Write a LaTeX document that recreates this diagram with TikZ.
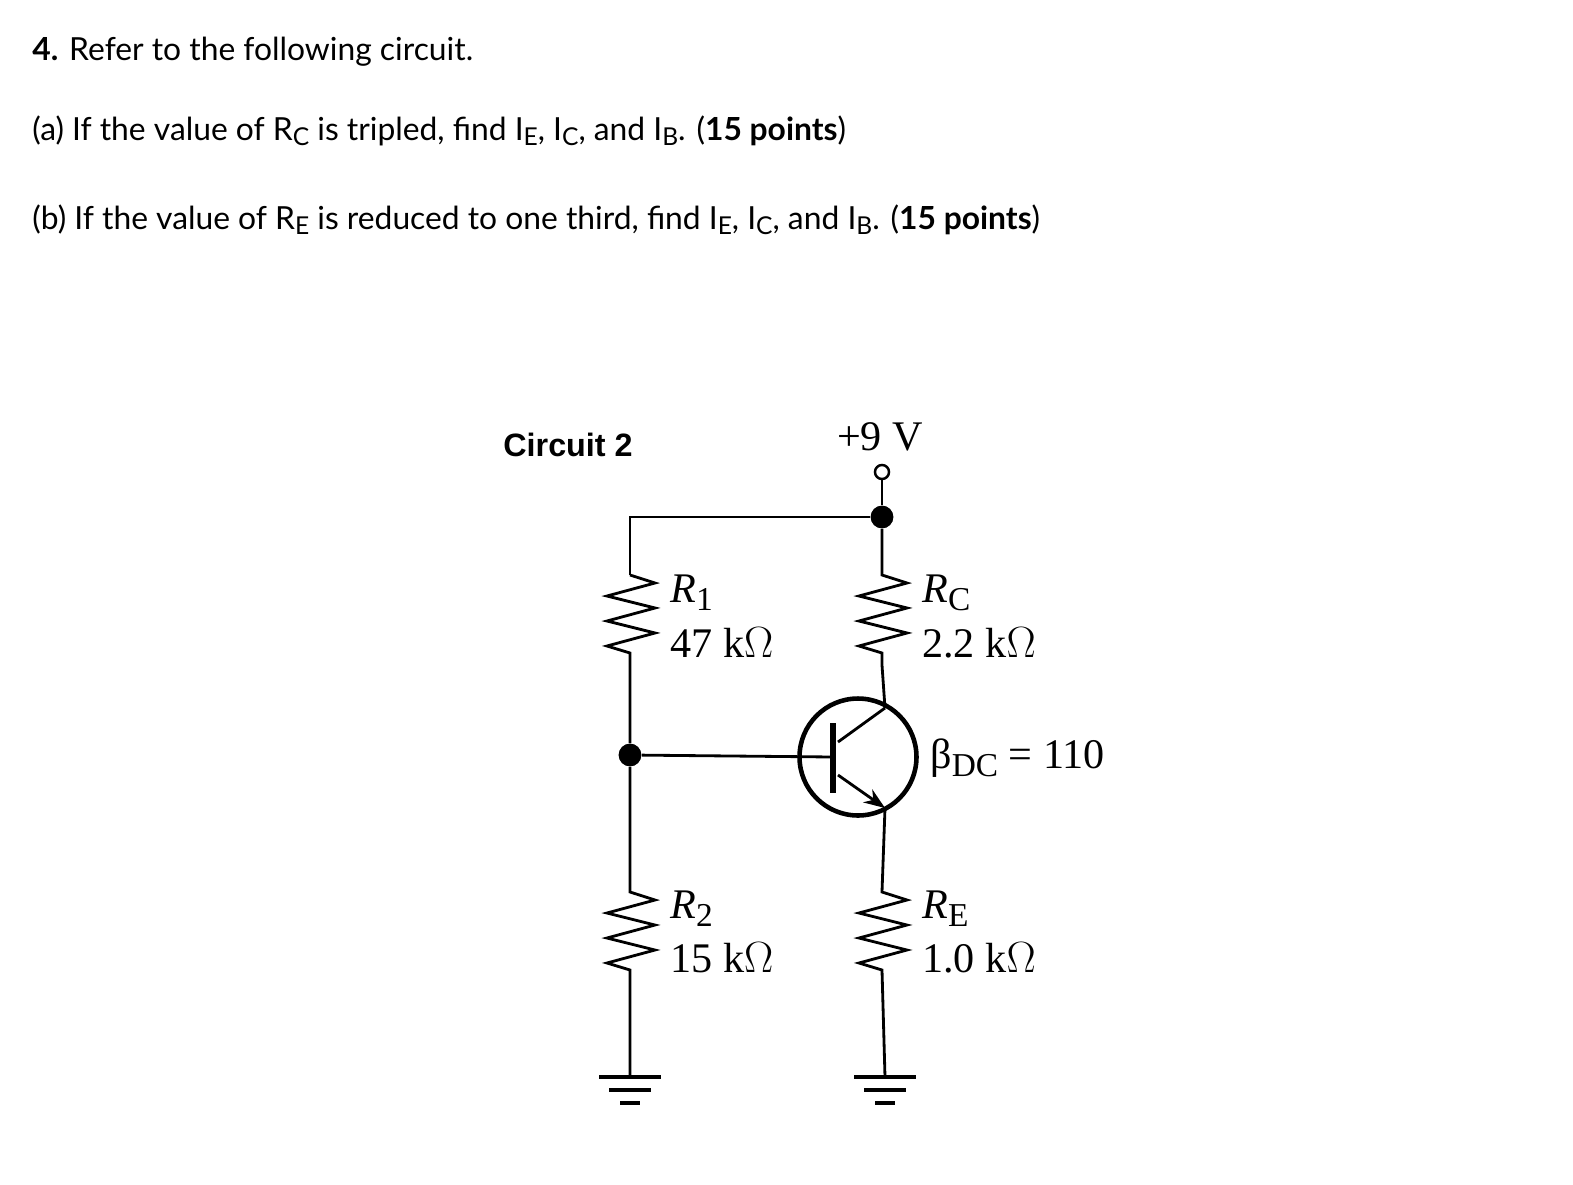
\documentclass[tikz,border=0pt]{standalone}
\usepackage{fontspec}
\setmainfont{Lato}
\newfontfamily\tms{Liberation Serif}
\newfontfamily\arl{Liberation Sans}
\usetikzlibrary{arrows.meta}
\newcommand{\dn}[1]{\raisebox{-0.35ex}{\fontsize{14}{14}\selectfont #1}}
\newcommand{\tdn}[1]{\raisebox{-0.45ex}{\fontsize{19}{19}\selectfont #1}}
\begin{document}
\begin{tikzpicture}[x=0.02cm,y=-0.02cm,
  txt/.style={anchor=base west,inner sep=0,font=\fontsize{18.1}{21}\selectfont},
  lab/.style={anchor=base west,inner sep=0,font=\tms\fontsize{24}{27}\selectfont},
  w/.style={line width=1.6pt},
  dot/.style={circle,fill,inner sep=0,minimum size=13pt}]
\useasboundingbox (0,0) rectangle (1573,1184);
\node[txt] (t1) at (32,60) {\textbf{4.} Refer to the following circuit.};
\node[txt] (t2) at (32,140) {(a) If the value of R\dn{C} is tripled, find I\dn{E}, I\dn{C}, and I\dn{B}. (\textbf{15 points})};
\node[txt] (t3) at (32,229) {(b) If the value of R\dn{E} is reduced to one third, find I\dn{E}, I\dn{C}, and I\dn{B}. (\textbf{15 points})};
\node[anchor=base west,inner sep=0,font=\arl\bfseries\fontsize{18.4}{21}\selectfont] (c2) at (503,456) {Circuit 2};
\node[lab,anchor=base] (v9) at (880,450) {+9 V};
% nodes
\node[circle,draw,line width=1.4pt,inner sep=0,minimum size=8pt,fill=white] (vt) at (882,472) {};
\coordinate (tl) at (630,517);
\node[dot] (tr) at (882,517) {};
\node[dot] (bn) at (630,755) {};
\coordinate (bb) at (833,757);
\node[circle,draw,line width=2.6pt,minimum size=2.34cm,inner sep=0] (q) at (858,757) {};
\coordinate (col) at (885,708);
\coordinate (emi) at (885,808);
\coordinate (g1) at (630,1077);
\coordinate (g2) at (885,1077);
% wires
\draw[w] (vt) -- (tr);
\draw[w] (tr) -- (tl) -- (630,575);
\draw[w,line join=miter] (630,575) -- ++(25,8) -- ++(-48,13) -- ++(48,12) -- ++(-48,13) -- ++(48,12) -- ++(-48,13) -- ++(23,7) -- (bn);
\draw[w] (bn) -- (bb);
\draw[w] (bn) -- (630,892) -- ++(25,8) -- ++(-48,13) -- ++(48,12) -- ++(-48,13) -- ++(48,12) -- ++(-48,13) -- ++(23,7) -- (g1);
\draw[w] (tr) -- (882,575) -- ++(25,8) -- ++(-48,13) -- ++(48,12) -- ++(-48,13) -- ++(48,12) -- ++(-48,13) -- ++(23,7) -- (882,665) -- (col);
\draw[w] (emi) -- (882,892) -- ++(25,8) -- ++(-48,13) -- ++(48,12) -- ++(-48,13) -- ++(48,12) -- ++(-48,13) -- ++(23,7) -- (g2);
% transistor
\draw[line width=3.5pt] (833,723) -- (833,793);
\draw[w] (838,742) -- (col);
\draw[w,-{Stealth[length=12pt,width=9pt]}] (838,775) -- (emi);
% grounds
\foreach \g in {g1,g2}{
 \draw[line width=2.8pt] ([xshift=-31*0.02cm]\g) -- ([xshift=31*0.02cm]\g);
 \draw[line width=2.8pt] ([xshift=-21*0.02cm,yshift=-13*0.02cm]\g) -- ([xshift=21*0.02cm,yshift=-13*0.02cm]\g);
 \draw[line width=2.8pt] ([xshift=-10*0.02cm,yshift=-26*0.02cm]\g) -- ([xshift=10*0.02cm,yshift=-26*0.02cm]\g);
}
% labels
\node[lab] (l1) at (670,602) {\textit{R}\tdn{1}};
\node[lab] (l1v) at (670,657) {47 k$\Omega$};
\node[lab] (lc) at (922,602) {\textit{R}\tdn{C}};
\node[lab] (lcv) at (922,657) {2.2 k$\Omega$};
\node[lab] (lb) at (930,768) {β\tdn{DC} = 110};
\node[lab] (l2) at (670,918) {\textit{R}\tdn{2}};
\node[lab] (l2v) at (670,972) {15 k$\Omega$};
\node[lab] (le) at (922,918) {\textit{R}\tdn{E}};
\node[lab] (lev) at (922,972) {1.0 k$\Omega$};
\end{tikzpicture}
\end{document}
